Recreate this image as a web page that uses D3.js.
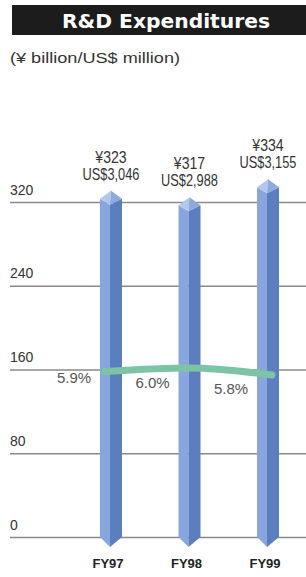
<!DOCTYPE html>
<html>
<head>
<meta charset="utf-8">
<script src="https://cdn.jsdelivr.net/npm/d3@7"></script>
<style>
  body { margin: 0; background: #fff; }
  svg { display: block; }
  text { font-family: "Liberation Sans", sans-serif; }
</style>
</head>
<body>
<svg width="306" height="577"></svg>
<script>
// chart data
const years = ['FY97', 'FY98', 'FY99'];
const yen = [323, 317, 334];
const usd = [3046, 2988, 3155];
const ratio = [5.9, 6.0, 5.8];
const ticks = [0, 80, 160, 240, 320];

const width = 306;
const height = 577;

const svg = d3.select('svg');

const x = d3.scalePoint()
    .domain(years)
    .range([111, 268]);

const y = d3.scaleLinear()
    .domain([0, 320])
    .range([537, 202]);

// ratio line sits on its own hidden scale
const yr = d3.scaleLinear()
    .domain([5.8, 6.0])
    .range([375, 368]);

// title bar
svg.append('rect')
    .attr('x', 12).attr('y', 5)
    .attr('width', width - 12).attr('height', 30)
    .attr('fill', '#1c1c1c');

svg.append('text')
    .attr('x', 166).attr('y', 28)
    .attr('text-anchor', 'middle')
    .attr('fill', '#fff')
    .style('font-family', '"DejaVu Sans", sans-serif')
    .style('font-weight', 'bold')
    .style('font-size', '19px')
    .attr('textLength', 208)
    .attr('lengthAdjust', 'spacingAndGlyphs')
    .text('R&D Expenditures');

svg.append('text')
    .attr('x', 10).attr('y', 63)
    .attr('fill', '#333')
    .style('font-size', '14px')
    .attr('textLength', 170)
    .attr('lengthAdjust', 'spacingAndGlyphs')
    .text('(¥ billion/US$ million)');

// gridlines + tick labels
const axis = svg.append('g')
    .attr('transform', 'translate(10,0)')
    .call(d3.axisRight(y).tickValues(ticks).tickSize(width - 10).tickFormat(d3.format('d')));

axis.select('.domain').remove();
axis.selectAll('.tick line')
    .attr('stroke', '#8a8a8a')
    .attr('stroke-width', 1.4);
axis.selectAll('.tick text')
    .attr('x', 0)
    .attr('dy', -8)
    .attr('text-anchor', 'start')
    .attr('fill', '#333')
    .style('font-size', '14px');

// prism bars
const hw = 11;   // half width
const bars = svg.append('g')
    .selectAll('g')
    .data(years)
    .enter().append('g')
    .attr('transform', d => `translate(${x(d)},0)`);

const y0 = y(0);

bars.append('path')
    .attr('fill', '#88a6de')
    .attr('d', (d, i) => {
        const t = y(yen[i]);
        return `M${-hw},${t} L-1,${t + 6} L-1,${y0 + 10} L${-hw},${y0} Z`;
    });

bars.append('path')
    .attr('fill', '#5b7ebf')
    .attr('d', (d, i) => {
        const t = y(yen[i]);
        return `M-1,${t + 6} L${hw},${t} L${hw},${y0} L-1,${y0 + 10} Z`;
    });

bars.append('path')
    .attr('fill', '#b3c6ec')
    .attr('d', (d, i) => {
        const t = y(yen[i]);
        return `M${-hw},${t} L0,${t - 8} L-1,${t + 6} Z`;
    });

bars.append('path')
    .attr('fill', '#8ea9dc')
    .attr('d', (d, i) => {
        const t = y(yen[i]);
        return `M0,${t - 8} L${hw},${t} L-1,${t + 6} Z`;
    });

// value labels (condensed type)
bars.append('text')
    .attr('text-anchor', 'middle')
    .attr('transform', (d, i) => `translate(0,${y(yen[i]) - 36}) scale(0.88,1)`)
    .attr('fill', '#333')
    .style('font-size', '16px')
    .text((d, i) => '¥' + yen[i]);

bars.append('text')
    .attr('text-anchor', 'middle')
    .attr('transform', (d, i) => `translate(0,${y(yen[i]) - 19}) scale(0.8,1)`)
    .attr('fill', '#333')
    .style('font-size', '16px')
    .text((d, i) => 'US$' + d3.format(',')(usd[i]));

// ratio line
const line = d3.line()
    .x((d, i) => x(years[i]) + (i === 0 ? -6 : i === ratio.length - 1 ? 4 : 0))
    .y(d => yr(d))
    .curve(d3.curveMonotoneX);

svg.append('path')
    .datum(ratio)
    .attr('d', line)
    .attr('fill', 'none')
    .attr('stroke', '#7dc4a5')
    .attr('stroke-width', 7)
    .attr('stroke-linecap', 'round');

svg.append('g')
    .selectAll('text')
    .data(ratio)
    .enter().append('text')
    .attr('x', (d, i) => x(years[i]) - 37)
    .attr('y', (d, i) => yr(ratio[0]) + 11 + i * 5.5)
    .attr('text-anchor', 'middle')
    .attr('fill', '#555')
    .style('font-size', '15px')
    .text(d => d.toFixed(1) + '%');

// category labels
svg.append('g')
    .selectAll('text')
    .data(years)
    .enter().append('text')
    .attr('x', d => x(d) - 3)
    .attr('y', 568)
    .attr('text-anchor', 'middle')
    .attr('fill', '#222')
    .style('font-size', '13px')
    .style('font-weight', 'bold')
    .text(d => d);
</script>
</body>
</html>
